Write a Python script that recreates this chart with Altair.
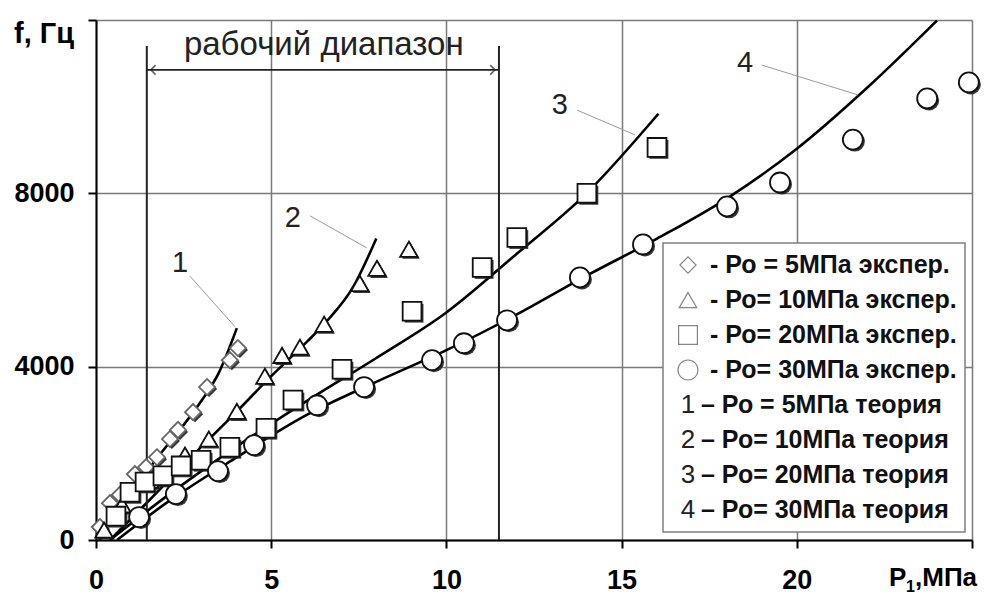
import altair as alt
import pandas as pd

# ---------------- data ----------------
# experimental points
exp5_x = [0.11, 0.40, 0.68, 1.11, 1.43, 1.74, 2.11, 2.34, 2.77, 3.17, 3.82, 4.05]
exp5_y = [300, 850, 1040, 1520, 1680, 1910, 2330, 2540, 2950, 3530, 4150, 4430]

exp10_x = [0.23, 0.74, 1.54, 2.54, 3.22, 4.02, 4.82, 5.31, 5.82, 6.51, 7.53, 8.02, 8.93]
exp10_y = [230, 810, 1380, 1960, 2330, 2970, 3780, 4260, 4450, 4980, 5920, 6270, 6710]

exp20_x = [0.57, 0.97, 1.40, 1.91, 2.43, 3.00, 3.82, 4.85, 5.62, 7.02, 9.02, 11.02, 12.01, 14.01, 16.01]
exp20_y = [550, 1100, 1340, 1480, 1710, 1840, 2140, 2580, 3230, 3940, 5280, 6290, 6980, 8000, 9060]

exp30_x = [1.23, 2.28, 3.48, 4.51, 6.31, 7.65, 9.59, 10.50, 11.73, 13.81, 15.61, 18.01, 19.52, 21.60, 23.72, 24.91]
exp30_y = [530, 1060, 1590, 2190, 3110, 3530, 4150, 4540, 5070, 6060, 6820, 7700, 8250, 9240, 10190, 10560]

# theoretical curves
th1_x = [0.1, 0.6, 1.2, 1.8, 2.4, 3.0, 3.5, 4.02]
th1_y = [0, 620, 1300, 1950, 2550, 3200, 3850, 4890]

th2_x = [0.4, 1.5, 2.7, 4.0, 5.0, 6.0, 6.6, 7.34, 8.0]
th2_y = [0, 900, 1900, 2950, 3780, 4560, 5060, 5840, 6960]

th3_x = [0.4, 2.0, 4.0, 6.0, 8.0, 10.0, 12.0, 14.0, 16.05]
th3_y = [0, 1000, 2150, 3200, 4200, 5250, 6600, 8000, 9836]

th4_x = [0.6, 2.0, 4.0, 6.0, 8.0, 10.0, 12.0, 14.0, 16.0, 18.0, 20.0, 22.0, 24.0]
th4_y = [0, 850, 1900, 2880, 3650, 4380, 5200, 6100, 6950, 7880, 9028, 10430, 11986]

# curve number labels and leader lines
curve_nums = ["1", "2", "3", "4"]
num_x = [2.40, 5.62, 13.24, 18.52]
num_y = [6390, 7430, 10040, 11010]
lead_x1 = [2.68, 6.11, 13.73, 19.00]
lead_y1 = [6090, 7480, 9920, 10960]
lead_x2 = [3.97, 7.73, 15.38, 21.75]
lead_y2 = [4920, 6740, 9350, 10270]

# working range
range_lo, range_hi = 1.45, 11.5
range_top = 11400
range_arrow_y = 10850
range_label = "рабочий диапазон"

legend_exp = ["- Ро = 5МПа экспер.", "- Ро= 10МПа экспер.", "- Ро= 20МПа экспер.", "- Ро= 30МПа экспер."]
legend_th_num = ["1", "2", "3", "4"]
legend_th = ["– Ро = 5МПа теория", "– Ро= 10МПа теория", "– Ро= 20МПа теория", "– Ро= 30МПа теория"]

series = ["5", "10", "20", "30"]
shapes = ["diamond", "triangle-up", "square", "circle"]

# ---------------- tables ----------------
pts = pd.concat([
    pd.DataFrame({"x": exp5_x, "y": exp5_y, "s": "5"}),
    pd.DataFrame({"x": exp10_x, "y": exp10_y, "s": "10"}),
    pd.DataFrame({"x": exp20_x, "y": exp20_y, "s": "20"}),
    pd.DataFrame({"x": exp30_x, "y": exp30_y, "s": "30"}),
], ignore_index=True)

curves = pd.concat([
    pd.DataFrame({"x": th1_x, "y": th1_y, "c": "1"}),
    pd.DataFrame({"x": th2_x, "y": th2_y, "c": "2"}),
    pd.DataFrame({"x": th3_x, "y": th3_y, "c": "3"}),
    pd.DataFrame({"x": th4_x, "y": th4_y, "c": "4"}),
], ignore_index=True)

nums = pd.DataFrame({"t": curve_nums, "x": num_x, "y": num_y})
leads = pd.DataFrame({"x": lead_x1, "y": lead_y1, "x2": lead_x2, "y2": lead_y2})

FONT = "Liberation Sans"
W, H = 876, 520
xs = alt.Scale(domain=[0, 25], nice=False, zero=False)
ys = alt.Scale(domain=[0, 12000], nice=False, zero=False)

x_axis = alt.Axis(values=[0, 5, 10, 15, 20, 25], labelExpr="datum.value == 25 ? '' : datum.label",
                  grid=True, gridColor="#7a7a7a", gridWidth=1.5, domainColor="black", domainWidth=2,
                  tickColor="black", tickWidth=2, tickSize=8, labelFont=FONT, labelFontSize=27,
                  labelFontWeight="bold", labelColor="black", labelPadding=19, title=None,
                  labelFlush=False)
y_axis = alt.Axis(values=[0, 4000, 8000, 12000], labelExpr="datum.value == 12000 ? '' : datum.label",
                  format="d", grid=True, gridColor="#7a7a7a", gridWidth=1.5, domainColor="black",
                  domainWidth=2, tickColor="black", tickWidth=2, tickSize=8, labelFont=FONT,
                  labelFontSize=27, labelFontWeight="bold", labelColor="black", labelPadding=14,
                  title=None, labelFlush=False)

lines = alt.Chart(curves).mark_line(color="black", strokeWidth=2.6, interpolate="monotone").encode(
    x=alt.X("x:Q", scale=xs, axis=x_axis),
    y=alt.Y("y:Q", scale=ys, axis=y_axis),
    detail="c:N",
)

shape_scale = alt.Scale(domain=series, range=shapes)
size_scale = alt.Scale(domain=series, range=[260, 400, 460, 450])

shadow = alt.Chart(pts).mark_point(filled=True, color="#222", opacity=0.9, xOffset=2, yOffset=2).encode(
    x=alt.X("x:Q", scale=xs), y=alt.Y("y:Q", scale=ys),
    shape=alt.Shape("s:N", scale=shape_scale, legend=None),
    size=alt.Size("s:N", scale=size_scale, legend=None),
)
markers = alt.Chart(pts).mark_point(filled=False, fill="white", fillOpacity=1, strokeWidth=1.8, opacity=1).encode(
    x=alt.X("x:Q", scale=xs), y=alt.Y("y:Q", scale=ys),
    shape=alt.Shape("s:N", scale=shape_scale, legend=None),
    size=alt.Size("s:N", scale=size_scale, legend=None),
    color=alt.Color("s:N", scale=alt.Scale(domain=series, range=["#666", "#111", "#111", "#111"]), legend=None),
)

# working range
rng = pd.DataFrame({"x": [range_lo, range_hi], "y0": [0, 0], "y1": [range_top, range_top]})
range_rules = alt.Chart(rng).mark_rule(color="#222", strokeWidth=2).encode(
    x=alt.X("x:Q", scale=xs), y=alt.Y("y0:Q", scale=ys), y2="y1:Q")
arrow_df = pd.DataFrame({"x": [range_lo], "x2": [range_hi], "y": [range_arrow_y]})
arrow_line = alt.Chart(arrow_df).mark_rule(color="#222", strokeWidth=1.6).encode(
    x=alt.X("x:Q", scale=xs), x2="x2:Q", y=alt.Y("y:Q", scale=ys))
head_l = alt.Chart(pd.DataFrame({"x": [range_lo], "y": [range_arrow_y]})).mark_point(
    shape="M 1 -1 L 0 0 L 1 1", size=90, filled=False, color="#222", strokeWidth=1.6, xOffset=4).encode(
    x=alt.X("x:Q", scale=xs), y=alt.Y("y:Q", scale=ys))
head_r = alt.Chart(pd.DataFrame({"x": [range_hi], "y": [range_arrow_y]})).mark_point(
    shape="M -1 -1 L 0 0 L -1 1", size=90, filled=False, color="#222", strokeWidth=1.6, xOffset=-4).encode(
    x=alt.X("x:Q", scale=xs), y=alt.Y("y:Q", scale=ys))
range_text = alt.Chart(pd.DataFrame({"x": [6.5], "y": [11200], "t": [range_label]})).mark_text(
    font=FONT, fontSize=33, color="#222", align="center", baseline="alphabetic").encode(
    x=alt.X("x:Q", scale=xs), y=alt.Y("y:Q", scale=ys), text="t:N")

# leaders and numbers
leader = alt.Chart(leads).mark_rule(color="#9a9a9a", strokeWidth=1).encode(
    x=alt.X("x:Q", scale=xs), y=alt.Y("y:Q", scale=ys), x2="x2:Q", y2="y2:Q")
num_text = alt.Chart(nums).mark_text(font=FONT, fontSize=29, color="#222", align="center", baseline="middle").encode(
    x=alt.X("x:Q", scale=xs), y=alt.Y("y:Q", scale=ys), text="t:N")

# legend box (pixel positions relative to plot area)
LX0, LX1, LY0, LY1 = 567, 869, 223, 512
row0, rowstep = 245, 35
box = alt.Chart(pd.DataFrame({"a": [0]})).mark_rect(fill="white", stroke="#808080", strokeWidth=1.5).encode(
    x=alt.value(LX0), x2=alt.value(LX1), y=alt.value(LY0), y2=alt.value(LY1))

leg_sym_df = pd.DataFrame({"s": series, "py": [row0 + rowstep * i for i in range(4)], "px": [592] * 4})
leg_sym = alt.Chart(leg_sym_df).mark_point(filled=False, color="#555", strokeWidth=1.2).encode(
    x=alt.X("px:Q", scale=None), y=alt.Y("py:Q", scale=None),
    shape=alt.Shape("s:N", scale=shape_scale, legend=None),
    size=alt.Size("s:N", scale=alt.Scale(domain=series, range=[50, 75, 75, 80]), legend=None),
)
leg_exp_df = pd.DataFrame({"t": legend_exp, "py": [row0 + rowstep * i for i in range(4)]})
leg_exp = alt.Chart(leg_exp_df).mark_text(font=FONT, fontSize=25, fontWeight="bold", color="#111",
                                          align="left", baseline="middle", x=614).encode(
    y=alt.Y("py:Q", scale=None), text="t:N")
leg_num_df = pd.DataFrame({"t": legend_th_num, "py": [row0 + rowstep * (i + 4) for i in range(4)]})
leg_num = alt.Chart(leg_num_df).mark_text(font=FONT, fontSize=26, color="#222",
                                          align="center", baseline="middle", x=592).encode(
    y=alt.Y("py:Q", scale=None), text="t:N")
leg_th_df = pd.DataFrame({"t": legend_th, "py": [row0 + rowstep * (i + 4) for i in range(4)]})
leg_th = alt.Chart(leg_th_df).mark_text(font=FONT, fontSize=25, fontWeight="bold", color="#111",
                                        align="left", baseline="middle", x=605).encode(
    y=alt.Y("py:Q", scale=None), text="t:N")

# axis titles
y_title = alt.Chart(pd.DataFrame({"t": ["f, Гц"]})).mark_text(
    font=FONT, fontSize=29, fontWeight="bold", color="black", align="left", baseline="alphabetic",
    x=-82, y=23).encode(text="t:N")
xt_main = alt.Chart(pd.DataFrame({"t": ["P"]})).mark_text(
    font=FONT, fontSize=26, fontWeight="bold", color="black", align="left", baseline="alphabetic",
    x=793, y=566).encode(text="t:N")
xt_sub = alt.Chart(pd.DataFrame({"t": ["1"]})).mark_text(
    font=FONT, fontSize=16, fontWeight="bold", color="black", align="left", baseline="alphabetic",
    x=810, y=572).encode(text="t:N")
xt_rest = alt.Chart(pd.DataFrame({"t": [",МПа"]})).mark_text(
    font=FONT, fontSize=26, fontWeight="bold", color="black", align="left", baseline="alphabetic",
    x=819, y=566).encode(text="t:N")

chart = alt.layer(
    lines, range_rules, arrow_line, head_l, head_r, range_text, leader, num_text,
    shadow, markers, box, leg_sym, leg_exp, leg_num, leg_th, y_title, xt_main, xt_sub, xt_rest,
).properties(
    width=W, height=H,
    autosize=alt.AutoSizeParams(type="none"),
    padding={"left": 88, "top": 12, "right": 10, "bottom": 58},
).configure_view(stroke=None).configure(background="white")

chart.save("out.html", embed_options={"renderer": "svg", "actions": False})
